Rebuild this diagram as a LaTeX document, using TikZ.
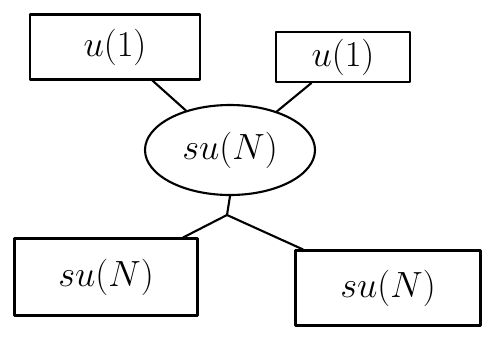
\documentclass[tikz,border=0pt]{standalone}
\usetikzlibrary{shapes.geometric}
\begin{document}
\begin{tikzpicture}[line width=1.2pt, line cap=round, line join=round,
    algbox/.style={draw, rectangle, inner sep=0pt, font=\fontsize{22}{26}\selectfont},
    algblob/.style={draw, ellipse, inner sep=0pt, font=\fontsize{22}{26}\selectfont}]
    \useasboundingbox (0,0) rectangle (9.96,7);
    \node[algbox, minimum width=3.4cm, minimum height=1.3cm] (uleft) at (2.3,6.06) {$u(1)$};
    \node[algbox, minimum width=2.68cm, minimum height=1.0cm] (uright) at (6.86,5.86) {$u(1)$};
    \node[algblob, minimum width=3.4cm, minimum height=1.8cm] (sucenter) at (4.6,4.0) {$su(N)$};
    \node[algbox, minimum width=3.66cm, minimum height=1.54cm] (suleft) at (2.12,1.46) {$su(N)$};
    \node[algbox, minimum width=3.7cm, minimum height=1.5cm] (suright) at (7.76,1.24) {$su(N)$};
    \coordinate (fork) at (4.54,2.7);
    \draw (uleft) -- (sucenter);
    \draw (uright) -- (sucenter);
    \draw (sucenter.south) -- (fork);
    \draw (fork) -- (suleft);
    \draw (fork) -- (suright);
  \end{tikzpicture}
\end{document}
